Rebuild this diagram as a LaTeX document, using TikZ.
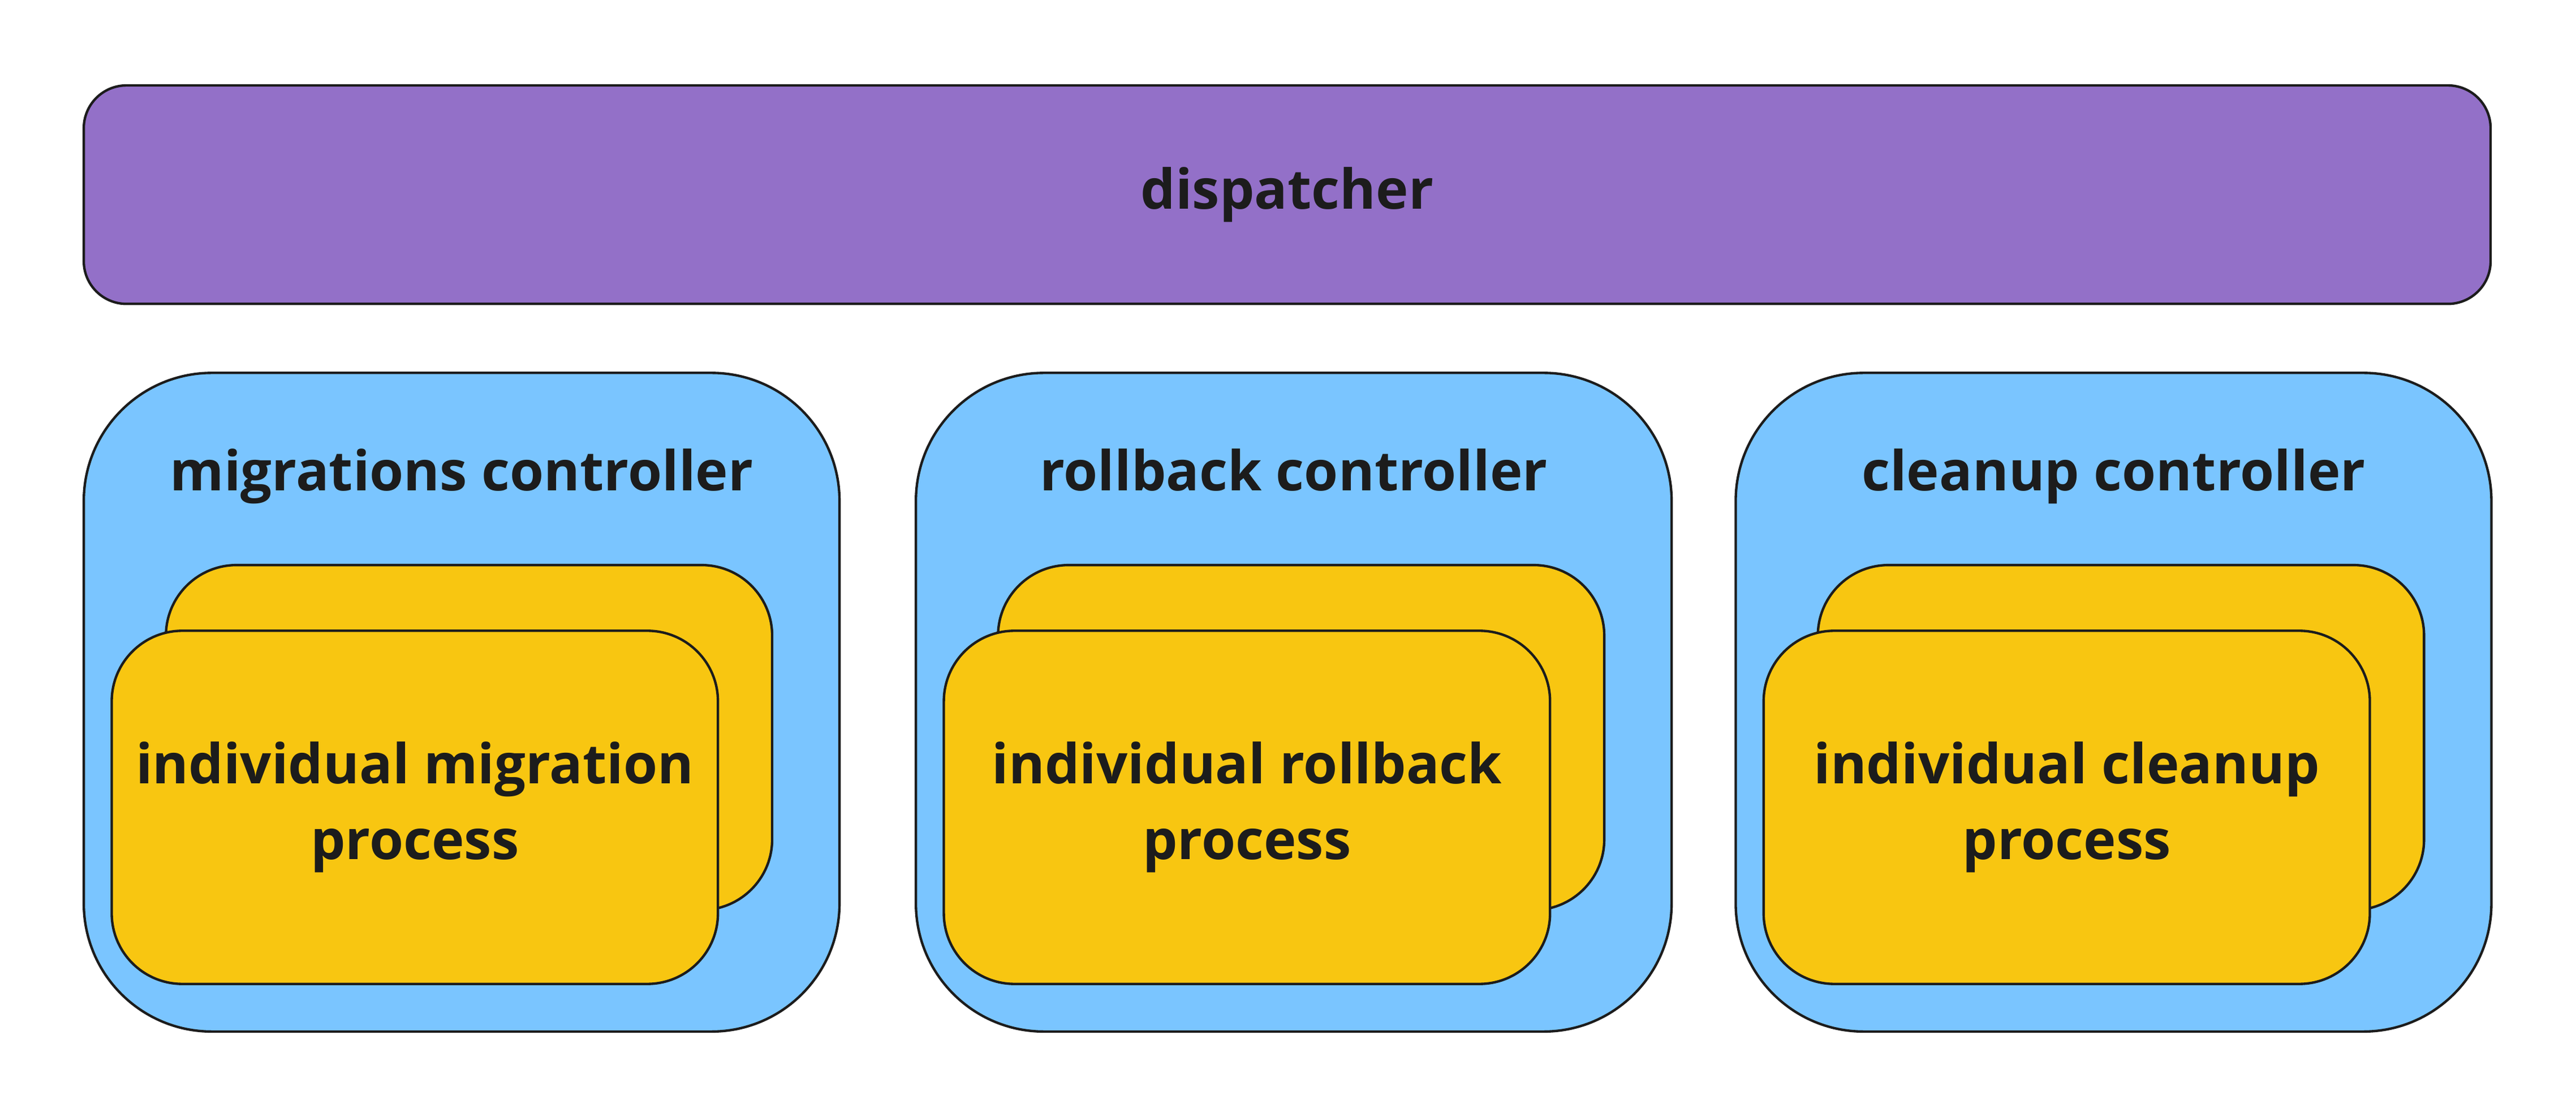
\documentclass[tikz,border=0pt]{standalone}
\usepackage{fontspec}
\setmainfont{Open Sans}
\usepackage{tikz}
\usetikzlibrary{positioning}
\usepackage{xcolor}

\definecolor{dispatchpurple}{HTML}{9370C8}
\definecolor{ctrlblue}{HTML}{7AC5FF}
\definecolor{procyellow}{HTML}{F8C611}
\definecolor{edgedark}{HTML}{1C1C1C}

\begin{document}
\begin{tikzpicture}[%
            x=1pt, y=-1pt,
            box/.style={draw=edgedark, line width=1.5pt, inner sep=0pt, outer sep=0pt, text=edgedark},
            bigtext/.style={font=\bfseries\fontsize{33.5}{46}\selectfont},
            dispatch/.style={box, bigtext, fill=dispatchpurple, rounded corners=26pt, minimum width=1465pt, minimum height=133pt},
            controller/.style={box, fill=ctrlblue, rounded corners=78pt, minimum width=460pt, minimum height=401pt},
            ctrllabel/.style={bigtext, inner sep=0pt, text=edgedark},
            backproc/.style={box, fill=procyellow, rounded corners=43pt, minimum width=369pt, minimum height=210pt},
            frontproc/.style={box, bigtext, fill=procyellow, rounded corners=43pt, minimum width=369pt, minimum height=215pt, align=center}
        ]
        \useasboundingbox (0,0) rectangle (1568,680);

        % Dispatcher
        \node[dispatch] (dispatcher) at (783.5,118.5) {dispatcher};

        % Controllers
        \node[controller] (migctrl) at (281,427.5) {};
        \node[controller] (rbctrl) at (787.5,427.5) {};
        \node[controller] (cleanctrl) at (1286.5,427.5) {};

        \node[ctrllabel] (miglabel) [below=46pt of migctrl.north] {migrations controller};
        \node[ctrllabel] (rblabel) [below=46pt of rbctrl.north] {rollback controller};
        \node[ctrllabel] (cleanlabel) [below=46pt of cleanctrl.north] {cleanup controller};

        % Stacked process cards
        \node[backproc] (migback) [below left=117pt and 41pt of migctrl.north east] {};
        \node[frontproc] (migproc) [above right=29pt and 17pt of migctrl.south west] {individual migration\\process};

        \node[backproc] (rbback) [below left=117pt and 41pt of rbctrl.north east] {};
        \node[frontproc] (rbproc) [above right=29pt and 17pt of rbctrl.south west] {individual rollback\\process};

        \node[backproc] (cleanback) [below left=117pt and 41pt of cleanctrl.north east] {};
        \node[frontproc] (cleanproc) [above right=29pt and 17pt of cleanctrl.south west] {individual cleanup\\process};

        \end{tikzpicture}
\end{document}
